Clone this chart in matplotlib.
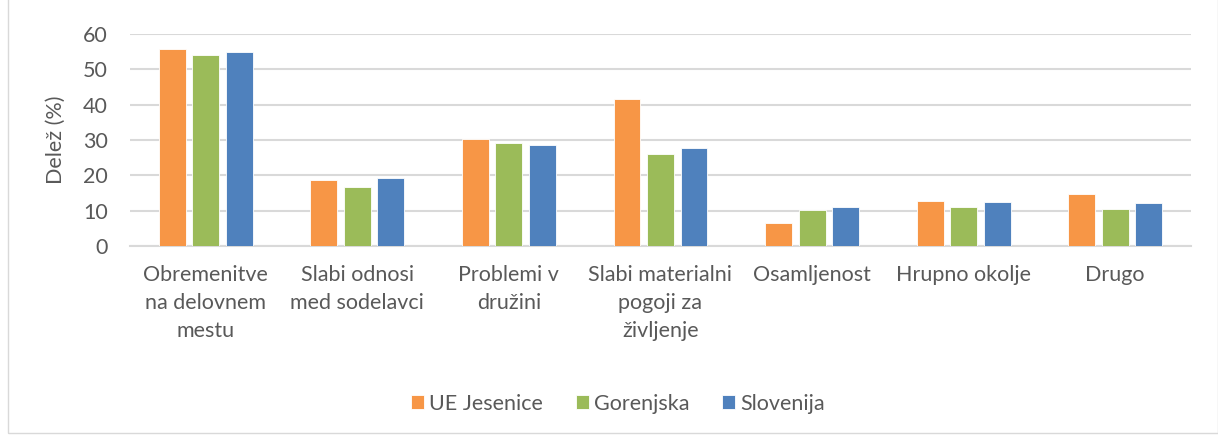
import matplotlib
matplotlib.use("Agg")
import matplotlib.pyplot as plt
import numpy as np
from matplotlib.patches import Rectangle

categories = ["Obremenitve\nna delovnem\nmestu", "Slabi odnosi\nmed sodelavci", "Problemi v\ndružini",
              "Slabi materialni\npogoji za\nživljenje", "Osamljenost", "Hrupno okolje", "Drugo"]
series_names = ["UE Jesenice", "Gorenjska", "Slovenija"]
ue_jesenice = [55.8, 18.8, 30.3, 41.6, 6.4, 12.8, 14.8]
gorenjska = [54.1, 16.6, 29.2, 25.9, 10.1, 11.1, 10.6]
slovenija = [54.8, 19.2, 28.7, 27.7, 11.0, 12.4, 12.1]
colors = ["#F79646", "#9BBB59", "#4F81BD"]
yticks = [0, 10, 20, 30, 40, 50, 60]

plt.rcParams['font.family'] = ['Lato', 'DejaVu Sans']
txt = "#595959"
fs = 15.5

fig = plt.figure(figsize=(12.18, 4.36), dpi=100)
ax = fig.add_axes([130/1218, 1-246/436, (1191-130)/1218, (246-34)/436])

x = np.arange(len(categories))
w = 0.178
step = 0.221
for i, (vals, c, name) in enumerate(zip([ue_jesenice, gorenjska, slovenija], colors, series_names)):
    ax.bar(x + (i-1)*step, vals, w, color=c, label=name, edgecolor="white", linewidth=0.6, zorder=3)

ax.set_xlim(-0.5, len(categories)-0.5)
ax.set_ylim(0, 60)
ax.set_yticks(yticks)
ax.yaxis.grid(True, color="#D9D9D9", linewidth=1.5, zorder=0)
ax.set_axisbelow(True)
for s in ["top", "right", "left"]:
    ax.spines[s].set_visible(False)
ax.spines["bottom"].set_color("#D9D9D9")
ax.spines["bottom"].set_linewidth(1.5)
ax.tick_params(axis="both", length=0, colors=txt, labelsize=fs)
ax.tick_params(axis="x", pad=14)
ax.tick_params(axis="y", pad=16)
ax.set_xticks(x)
ax.set_xticklabels(categories, color=txt, fontsize=fs, linespacing=1.5)
ax.set_ylabel("Delež (%)", color=txt, fontsize=fs, labelpad=12)

leg = fig.legend(loc="center", bbox_to_anchor=(618/1218, 1-404/436), ncol=3, frameon=False,
                 fontsize=fs, handlelength=0.62, handleheight=0.62, handletextpad=0.25, columnspacing=1.5)
for t in leg.get_texts():
    t.set_color(txt)

fig.patches.append(Rectangle((8/1218, 3/436), 1-8/1218, 1.2, transform=fig.transFigure,
                             fill=False, edgecolor="#D9D9D9", linewidth=1))

fig.savefig("out.png", dpi=100)
